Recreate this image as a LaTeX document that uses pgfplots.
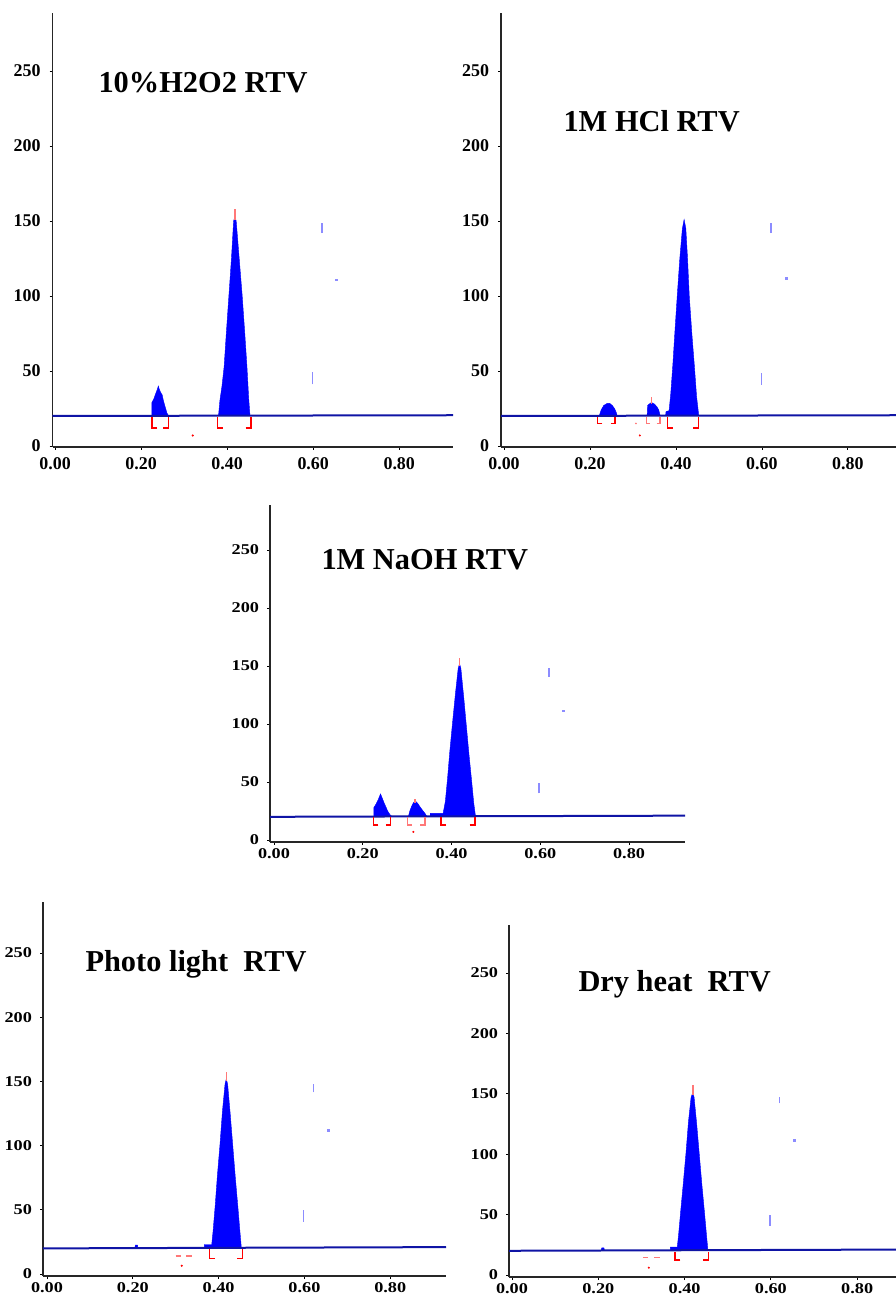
\documentclass[border=0pt]{standalone}
\usepackage{fontspec}
\setmainfont{Liberation Serif}
\newfontfamily\tickA{Liberation Serif}
\newfontfamily\tickB[FakeStretch=1.22]{Liberation Serif}
\usepackage{pgfplots}
\pgfplotsset{compat=1.18}
\definecolor{peakc}{RGB}{0,0,255}
\definecolor{basec}{RGB}{15,20,165}
\definecolor{bmarkc}{RGB}{140,140,255}
\definecolor{tipc}{RGB}{255,120,120}
\pgfplotsset{
 chrom/.style={
   scale only axis, anchor=south west,
   axis lines=left, axis line style={-, line width=1.3bp, color=black!85},
   xtick={0,0.2,0.4,0.6,0.8}, xticklabels={0.00,0.20,0.40,0.60,0.80},
   ytick={0,50,100,150,200,250}, yticklabels={0,50,100,150,200,250},
   tick align=outside, major tick length=3bp, tick style={black, line width=0.8bp},
   clip=false,
 },
 fontA/.style={every tick label/.append style={font=\tickA\bfseries\fontsize{18}{20}\selectfont},
   xticklabel style={yshift=-4bp}, yticklabel style={xshift=-5.5bp}},
 fontB/.style={every tick label/.append style={font=\tickB\bfseries\fontsize{15}{18}\selectfont},
   yticklabel style={xshift=-4.5bp}},
 pk/.style={fill=peakc, draw=peakc, line width=0.4bp},
 bl/.style={color=basec, line width=2bp},
 br/.style={red, line width=1.4bp},
 bm/.style={bmarkc, line width=1.5bp},
 tp/.style={tipc, line width=1.6bp},
 bdot/.style={bmarkc, only marks, mark=square*, mark size=0.8bp},
 rdot/.style={red, only marks, mark=*, mark size=0.8bp},
}
\newcommand{\ttl}[1]{\fontsize{30.5}{34}\selectfont\bfseries #1}
\begin{document}
\begin{tikzpicture}
\useasboundingbox (0,0) rectangle (896bp,1294bp);
% ---------------- Panel 1
\begin{axis}[chrom, fontA, at={(52.5bp,847bp)}, width=400.5bp, height=434bp,
  xmin=-0.006, xmax=0.925, ymin=-0.67, ymax=288.7]
\addplot[pk] coordinates {(0.225,20.5) (0.225,29) (0.229,31) (0.234,35) (0.238,38) (0.240,40) (0.242,38) (0.245,36) (0.249,34) (0.252,30) (0.256,26) (0.260,22) (0.263,20.5)};
\addplot[pk] coordinates {(0.380,20.5) (0.383,30) (0.388,40) (0.393,53) (0.398,75) (0.404,100) (0.410,125) (0.415,150) (0.418,153) (0.421,150) (0.428,125) (0.435,100) (0.441,75) (0.446,53) (0.450,32) (0.453,20.5)};
\addplot[tp] coordinates {(0.418,151) (0.418,158)};
\addplot[bl] coordinates {(-0.006,20) (0.925,20.5)};
\addplot[br] coordinates {(0.237,12) (0.225,12) (0.225,19.5)};
\addplot[br] coordinates {(0.252,12) (0.264,12) (0.264,19.5)};
\addplot[br] coordinates {(0.390,12) (0.378,12) (0.378,19.5)};
\addplot[br] coordinates {(0.443,12) (0.455,12) (0.455,19.5)};
\addplot[rdot] coordinates {(0.32,7)};
\addplot[bm] coordinates {(0.598,41) (0.598,49.5)};
\addplot[bm] coordinates {(0.620,142) (0.620,148.7)};
\addplot[bdot] coordinates {(0.653,111)};
\end{axis}
\node[anchor=base west] at (95bp,1201bp) {\ttl{10\%H2O2 RTV}};
% ---------------- Panel 2
\begin{axis}[chrom, fontA, at={(501bp,847bp)}, width=395bp, height=434bp,
  xmin=-0.007, xmax=0.912, ymin=-0.67, ymax=288.7]
\addplot[pk] coordinates {(0.222,20.5) (0.226,24) (0.232,27) (0.240,28.4) (0.246,28.4) (0.252,27) (0.257,25) (0.261,22.5) (0.263,20.5)};
\addplot[pk] coordinates {(0.333,20.5) (0.334,27) (0.338,28) (0.343,29) (0.350,28) (0.356,26) (0.360,24) (0.363,20.5)};
\addplot[tp] coordinates {(0.343,28) (0.343,32.5)};
\addplot[pk] coordinates {(0.376,20.5) (0.377,23) (0.384,23.5) (0.388,35) (0.393,55) (0.398,78) (0.403,100) (0.409,125) (0.415,145) (0.419,151) (0.423,145) (0.427,125) (0.431,100) (0.437,75) (0.443,53) (0.448,33) (0.453,20.5)};
\addplot[bl] coordinates {(-0.007,20) (0.912,20.5)};
\addplot[br] coordinates {(0.229,15) (0.218,15) (0.218,19.5)};
\addplot[br] coordinates {(0.248,15) (0.258,15) (0.258,19.5)};
\addplot[tipc, line width=1.2bp] coordinates {(0.340,15) (0.332,15) (0.332,19.5)};
\addplot[tipc, line width=1.2bp] coordinates {(0.355,15) (0.363,15) (0.363,19.5)};
\addplot[br] coordinates {(0.392,12) (0.380,12) (0.380,19.5)};
\addplot[br] coordinates {(0.440,12) (0.452,12) (0.452,19.5)};
\addplot[rdot] coordinates {(0.316,7)};
\addplot[tipc, only marks, mark=*, mark size=0.7bp] coordinates {(0.307,15)};
\addplot[bm] coordinates {(0.599,40.7) (0.599,48.7)};
\addplot[bm] coordinates {(0.621,142) (0.621,149)};
\addplot[bdot] coordinates {(0.656,112)};
\end{axis}
\node[anchor=base west] at (560bp,1162bp) {\ttl{1M HCl RTV}};
% ---------------- Panel 3
\begin{axis}[chrom, fontB, at={(270bp,452bp)}, width=415bp, height=337bp,
  xmin=-0.009, xmax=0.926, ymin=-1.7, ymax=288.8]
\addplot[pk] coordinates {(0.225,20.5) (0.225,28) (0.230,31) (0.235,35) (0.240,39.7) (0.244,36) (0.248,32) (0.252,28.7) (0.256,25) (0.261,22) (0.265,20.5)};
\addplot[pk] coordinates {(0.303,20.5) (0.306,25) (0.310,29) (0.314,32) (0.318,33.9) (0.323,32) (0.330,28) (0.336,25) (0.341,22.5) (0.344,20.5)};
\addplot[tp] coordinates {(0.318,32) (0.318,35)};
\addplot[pk] coordinates {(0.352,20.5) (0.352,23) (0.381,23) (0.386,33) (0.391,53) (0.396,76) (0.402,100) (0.409,127) (0.415,148) (0.418,152) (0.421,148) (0.427,125) (0.433,100) (0.439,75) (0.445,52) (0.450,32) (0.454,20.5)};
\addplot[tp] coordinates {(0.418,150) (0.418,157)};
\addplot[bl] coordinates {(-0.009,20) (0.926,21)};
\addplot[br] coordinates {(0.235,13) (0.224,13) (0.224,19.5)};
\addplot[br] coordinates {(0.252,13) (0.263,13) (0.263,19.5)};
\addplot[tipc, line width=1.2bp] coordinates {(0.310,13) (0.300,13) (0.300,19.5)};
\addplot[tipc, line width=1.2bp] coordinates {(0.330,13) (0.340,13) (0.340,19.5)};
\addplot[br] coordinates {(0.388,13) (0.376,13) (0.376,19.5)};
\addplot[br] coordinates {(0.441,13) (0.453,13) (0.453,19.5)};
\addplot[rdot] coordinates {(0.314,7)};
\addplot[bm] coordinates {(0.597,40.2) (0.597,48.9)};
\addplot[bm] coordinates {(0.620,140.8) (0.620,148)};
\addplot[bdot] coordinates {(0.652,111.5)};
\end{axis}
\node[anchor=base west] at (318bp,724bp) {\ttl{1M NaOH RTV}};
% ---------------- Panel 4
\begin{axis}[chrom, fontB, at={(43bp,18bp)}, width=403bp, height=374bp,
  xmin=-0.0093, xmax=0.930, ymin=-1.5, ymax=289.8]
\addplot[pk] coordinates {(0.367,20.5) (0.367,23) (0.384,23) (0.387,33) (0.392,53) (0.397,76) (0.403,100) (0.409,127) (0.415,148) (0.418,152) (0.421,148) (0.427,125) (0.433,100) (0.439,75) (0.445,52) (0.450,32) (0.453,20.5)};
\addplot[tp] coordinates {(0.418,150) (0.418,157)};
\addplot[pk] coordinates {(0.205,20.5) (0.206,22.5) (0.211,22.5) (0.212,20.5)};
\addplot[bl] coordinates {(-0.0093,20) (0.930,21)};
\addplot[br] coordinates {(0.391,12.2) (0.379,12.2) (0.379,19.4)};
\addplot[br] coordinates {(0.444,12.2) (0.456,12.2) (0.456,19.4)};
\addplot[tipc, line width=1.2bp] coordinates {(0.300,14) (0.312,14)};
\addplot[tipc, line width=1.2bp] coordinates {(0.325,14) (0.338,14)};
\addplot[rdot] coordinates {(0.314,6.5)};
\addplot[bm] coordinates {(0.598,40.6) (0.598,50)};
\addplot[bm] coordinates {(0.621,141.5) (0.621,148)};
\addplot[bdot] coordinates {(0.656,112)};
\end{axis}
\node[anchor=base west] at (82bp,322bp) {\ttl{Photo light\ \ RTV}};
% ---------------- Panel 5
\begin{axis}[chrom, fontB, at={(509bp,17bp)}, width=387bp, height=352bp,
  xmin=-0.007, xmax=0.890, ymin=-1.7, ymax=289.7]
\addplot[pk] coordinates {(0.367,20.5) (0.367,23) (0.383,23) (0.386,33) (0.391,53) (0.397,76) (0.403,100) (0.409,127) (0.415,147) (0.419,151) (0.422,147) (0.428,125) (0.434,100) (0.440,75) (0.446,52) (0.451,32) (0.454,20.5)};
\addplot[tp] coordinates {(0.419,149) (0.419,157)};
\addplot[pk] coordinates {(0.207,20.5) (0.208,22.5) (0.213,22.5) (0.214,20.5)};
\addplot[bl] coordinates {(-0.007,20) (0.890,21)};
\addplot[br] coordinates {(0.390,12.5) (0.378,12.5) (0.378,19.4)};
\addplot[br] coordinates {(0.443,12.5) (0.455,12.5) (0.455,19.4)};
\addplot[tipc, line width=1.2bp] coordinates {(0.303,14.7) (0.315,14.7)};
\addplot[tipc, line width=1.2bp] coordinates {(0.330,14.7) (0.343,14.7)};
\addplot[rdot] coordinates {(0.317,6)};
\addplot[bm] coordinates {(0.598,40.6) (0.598,49.7)};
\addplot[bm] coordinates {(0.620,142) (0.620,147.6)};
\addplot[bdot] coordinates {(0.654,111.7)};
\end{axis}
\node[anchor=base west] at (575bp,302bp) {\ttl{Dry heat\ \ RTV}};
\end{tikzpicture}
\end{document}
